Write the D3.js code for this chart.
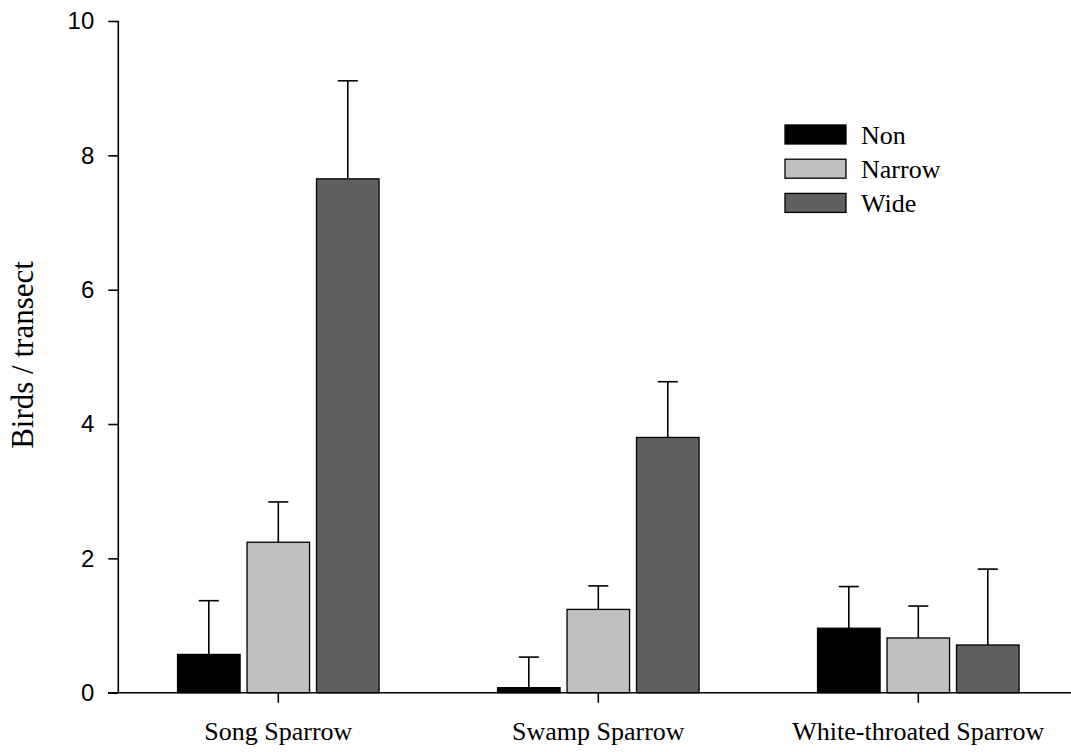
<!DOCTYPE html>
<html><head><meta charset="utf-8">
<script src="https://cdn.jsdelivr.net/npm/d3@7"></script>
<style>body{margin:0;background:#fff}</style>
</head><body>
<svg id="c" width="1071" height="752"></svg>
<script>
const categories = ["Song Sparrow", "Swamp Sparrow", "White-throated Sparrow"];
const seriesNames = ["Non", "Narrow", "Wide"];
const nonValues = [0.57, 0.075, 0.96];
const narrowValues = [2.24, 1.24, 0.815];
const wideValues = [7.65, 3.80, 0.71];
const nonErrTop = [1.37, 0.53, 1.58];
const narrowErrTop = [2.84, 1.59, 1.29];
const wideErrTop = [9.11, 4.63, 1.84];
const yTicks = [0, 2, 4, 6, 8, 10];
const colors = ["#000000", "#c0c0c0", "#606060"];

const values = [nonValues, narrowValues, wideValues];
const errTops = [nonErrTop, narrowErrTop, wideErrTop];

const svg = d3.select("#c");
const x0 = 118.3, x1 = 1078.3, yBottom = 692.7, yTop = 21;
const x = d3.scaleBand().domain(categories).range([x0, x1]).padding(0);
const y = d3.scaleLinear().domain([0, 10]).range([yBottom, yTop]);
const groupW = 201.5;
const xs = d3.scaleBand().domain(seriesNames).range([0, groupW]).paddingInner(0.1).paddingOuter(0);

const data = [];
categories.forEach((c, i) => seriesNames.forEach((s, j) => data.push({c, s, j, v: values[j][i], e: errTops[j][i]})));

const gx = c => x(c) + x.bandwidth()/2 - groupW/2;

// error bars (drawn first, bars cover the lower part)
const eb = svg.append("g").attr("stroke", "#000").attr("stroke-width", 1.6);
data.forEach(d => {
  const cx = gx(d.c) + xs(d.s) + xs.bandwidth()/2;
  eb.append("line").attr("x1", cx).attr("x2", cx).attr("y1", y(d.v)).attr("y2", y(d.e));
  eb.append("line").attr("x1", cx - 10).attr("x2", cx + 10).attr("y1", y(d.e)).attr("y2", y(d.e));
});

svg.append("g").selectAll("rect").data(data).join("rect")
  .attr("x", d => gx(d.c) + xs(d.s))
  .attr("width", xs.bandwidth())
  .attr("y", d => y(d.v))
  .attr("height", d => y(0) - y(d.v))
  .attr("fill", d => colors[d.j])
  .attr("stroke", "#000").attr("stroke-width", 1.3);

// y axis
const ya = svg.append("g").attr("transform", `translate(${x0},0)`)
  .call(d3.axisLeft(y).tickValues(yTicks).tickSize(10).tickPadding(14).tickFormat(d3.format("d")));
ya.select(".domain").attr("stroke-width", 1.6).attr("d", `M0,${yTop}V${yBottom}`);
ya.selectAll(".tick line").attr("stroke-width", 1.6);
ya.selectAll(".tick text").attr("font-family", "Liberation Sans, Arial, sans-serif").attr("font-size", 24).attr("fill", "#000");

// x axis
const xa = svg.append("g").attr("transform", `translate(0,${yBottom})`)
  .call(d3.axisBottom(x).tickSize(10).tickPadding(20));
xa.select(".domain").attr("stroke-width", 1.6).attr("d", `M108,0H1071`);
xa.selectAll(".tick line").attr("stroke-width", 1.6);
xa.selectAll(".tick text").attr("font-family", "Liberation Serif, Times New Roman, serif").attr("font-size", 26).attr("fill", "#000")
  .attr("dy", null).attr("y", 47);

// y title
svg.append("text").attr("transform", "translate(33,355) rotate(-90)")
  .attr("text-anchor", "middle").attr("font-family", "Liberation Serif, Times New Roman, serif")
  .attr("font-size", 31).text("Birds / transect");

// legend
const lg = svg.append("g").attr("transform", "translate(785,125)");
seriesNames.forEach((s, j) => {
  const g = lg.append("g").attr("transform", `translate(0,${j*34.2})`);
  g.append("rect").attr("width", 61).attr("height", 19).attr("fill", colors[j]).attr("stroke", "#000").attr("stroke-width", 1.3);
  g.append("text").attr("x", 76).attr("y", 18.5).attr("font-family", "Liberation Serif, Times New Roman, serif")
    .attr("font-size", 26).text(s);
});
</script>
</body></html>
